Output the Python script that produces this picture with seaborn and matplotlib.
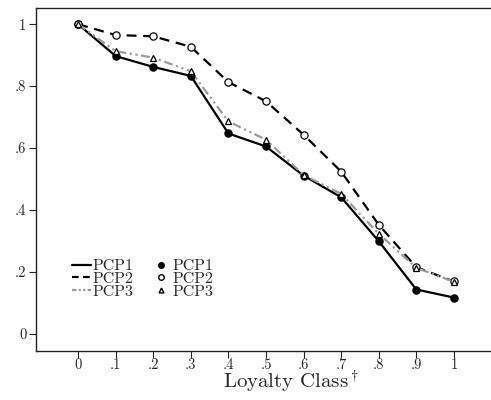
import matplotlib
matplotlib.use("Agg")
import matplotlib.pyplot as plt
from matplotlib.lines import Line2D
import seaborn as sns
import pandas as pd

# Loyalty classes and the three curves
loyalty = [0.0, 0.1, 0.2, 0.3, 0.4, 0.5, 0.6, 0.7, 0.8, 0.9, 1.0]
pcp1 = [1.0, 0.897, 0.862, 0.833, 0.647, 0.605, 0.511, 0.441, 0.299, 0.143, 0.117]
pcp2 = [1.0, 0.965, 0.961, 0.927, 0.813, 0.751, 0.643, 0.524, 0.352, 0.215, 0.169]
pcp3 = [1.0, 0.913, 0.892, 0.848, 0.686, 0.627, 0.513, 0.452, 0.323, 0.213, 0.168]
series_names = ["PCP1", "PCP2", "PCP3"]
xtick_labels = ["0", ".1", ".2", ".3", ".4", ".5", ".6", ".7", ".8", ".9", "1"]
yticks = [0, 0.2, 0.4, 0.6, 0.8, 1.0]
ytick_labels = ["0", ".2", ".4", ".6", ".8", "1"]

sns.set_style("ticks")
plt.rcParams["font.family"] = ["cmr10", "DejaVu Serif"]
plt.rcParams["mathtext.fontset"] = "cm"
plt.rcParams["axes.unicode_minus"] = False
plt.rcParams["axes.formatter.use_mathtext"] = True

fig = plt.figure(figsize=(4.91, 4.0), dpi=100)
ax = fig.add_axes([36 / 491, 49.5 / 400, 460 / 491, 343 / 400])

dash3 = (0, (4, 1.6, 1, 1.6, 1, 1.6))
styles = {
    "PCP1": dict(color="black", linestyle="-", marker="o", mfc="black", mec="black", ms=5.2, zorder=3),
    "PCP2": dict(color="black", linestyle=(0, (4.5, 3)), marker="o", mfc="white", mec="black", ms=5.2, zorder=3),
    "PCP3": dict(color="#9a9a9a", linestyle=dash3, marker="^", mfc="white", mec="black", ms=4.6, zorder=4),
}

for name, vals in zip(series_names, [pcp1, pcp2, pcp3]):
    df = pd.DataFrame({"loyalty": loyalty, "value": vals})
    st = styles[name]
    sns.lineplot(data=df, x="loyalty", y="value", ax=ax, color=st["color"],
                 linestyle=st["linestyle"], linewidth=1.6, marker=st["marker"],
                 markerfacecolor=st["mfc"], markeredgecolor=st["mec"],
                 markeredgewidth=0.9, markersize=st["ms"], zorder=st["zorder"])

ax.set_xlim(-0.112, 1.112)
ax.set_ylim(-0.054, 1.054)
ax.set_xticks(loyalty)
ax.set_xticklabels(xtick_labels)
ax.set_yticks(yticks)
ax.set_yticklabels(ytick_labels)
ax.tick_params(axis="both", direction="out", length=5, width=0.8, color="#222222",
               labelsize=10.5, pad=2)
ax.tick_params(axis="x", pad=0.5)
for side in ["left", "bottom", "top"]:
    ax.spines[side].set_visible(True)
    ax.spines[side].set_color("#222222")
    ax.spines[side].set_linewidth(1.0)
ax.spines["right"].set_visible(False)

ax.set_ylabel("")
ax.set_xlabel(r"Loyalty Class$^\dagger$", fontsize=15)
ax.xaxis.label.set_va("baseline")
ax.xaxis.set_label_coords(0.554, -0.111)

# legend: line styles in the first column, marker symbols in the second
line_handles = [
    Line2D([], [], color="black", linestyle="-", linewidth=1.6),
    Line2D([], [], color="black", linestyle=(0, (3, 2)), linewidth=1.6),
    Line2D([], [], color="#9a9a9a", linestyle=(0, (2, 1, 1, 1, 1, 1)), linewidth=1.6),
]
marker_handles = [
    Line2D([], [], linestyle="none", marker="o", mfc="black", mec="black", ms=4),
    Line2D([], [], linestyle="none", marker="o", mfc="white", mec="black", ms=4),
    Line2D([], [], linestyle="none", marker="^", mfc="white", mec="black", ms=3.5),
]
ax.legend(line_handles + marker_handles, series_names + series_names, ncol=2,
          frameon=False, fontsize=11.5, handlelength=1.2, handletextpad=0.1,
          columnspacing=1.1, labelspacing=-0.08, borderpad=0,
          loc="upper left", bbox_to_anchor=(64 / 491, 1 - 251 / 400),
          bbox_transform=fig.transFigure)

fig.savefig("out.png", dpi=100)
